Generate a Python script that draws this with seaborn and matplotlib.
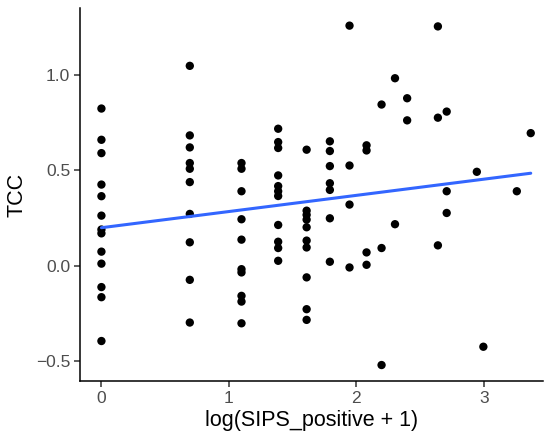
import numpy as np
import pandas as pd
import matplotlib
matplotlib.use("Agg")
import matplotlib.pyplot as plt
import seaborn as sns

# SIPS_positive counts and TCC values, grouped by count
sips_counts = [0, 1, 2, 3, 4, 5, 6, 7, 8, 9, 10, 13, 14, 18, 19, 25, 28]
tcc_groups = [
    [0.825, 0.661, 0.591, 0.426, 0.365, 0.263, 0.19, 0.17, 0.074, 0.011, -0.112, -0.165, -0.395],
    [1.049, 0.684, 0.621, 0.539, 0.509, 0.439, 0.272, 0.123, -0.074, -0.298],
    [0.539, 0.509, 0.391, 0.244, 0.137, -0.018, -0.035, -0.158, -0.188, -0.302],
    [0.719, 0.649, 0.618, 0.474, 0.418, 0.391, 0.366, 0.214, 0.126, 0.093, 0.026],
    [0.609, 0.289, 0.267, 0.242, 0.202, 0.132, 0.096, -0.061, -0.228, -0.284],
    [0.653, 0.602, 0.523, 0.433, 0.398, 0.249, 0.021],
    [1.26, 0.526, 0.321, -0.009],
    [0.632, 0.605, 0.070, 0.005],
    [0.846, 0.093, -0.521],
    [0.984, 0.218],
    [0.879, 0.763],
    [1.256, 0.777, 0.107],
    [0.809, 0.391, 0.277],
    [0.493],
    [-0.425],
    [0.391],
    [0.696],
]

y_ticks = [-0.5, 0.0, 0.5, 1.0]
x_ticks = [0, 1, 2, 3]

rows = []
for n, vals in zip(sips_counts, tcc_groups):
    for v in vals:
        rows.append((n, v))
df = pd.DataFrame(rows, columns=["SIPS_positive", "TCC"])
df["logx"] = np.log(df["SIPS_positive"] + 1)

sns.set_theme(style="ticks")
plt.rcParams["font.family"] = ["Liberation Sans", "DejaVu Sans"]

fig = plt.figure(figsize=(5.48, 4.4), dpi=100)
ax = fig.add_axes([0.146, 0.134, 0.845, 0.848])

sns.scatterplot(data=df, x="logx", y="TCC", ax=ax, color="black",
                s=36, edgecolor="none", linewidth=0, zorder=3)
sns.regplot(data=df, x="logx", y="TCC", ax=ax, scatter=False, ci=None,
            color="#3366FF", line_kws={"linewidth": 2.2, "zorder": 4})

ax.set_xlim(-0.168, 3.464)
ax.set_ylim(-0.605, 1.353)
ax.set_xticks(x_ticks)
ax.set_yticks(y_ticks)
ax.set_yticklabels([f"{t:.1f}".replace("-", "\u2212") for t in y_ticks])
ax.set_xlabel("log(SIPS_positive + 1)", fontsize=15.5, color="black", labelpad=3)
ax.set_ylabel("TCC", fontsize=15.5, color="black", labelpad=6)
ax.tick_params(axis="both", labelsize=12.5, labelcolor="#4D4D4D",
               color="#333333", length=4, width=1.1, pad=3)
for sp in ["top", "right"]:
    ax.spines[sp].set_visible(False)
for sp in ["left", "bottom"]:
    ax.spines[sp].set_color("black")
    ax.spines[sp].set_linewidth(1.1)

fig.savefig("out.png", dpi=100, facecolor="white")
